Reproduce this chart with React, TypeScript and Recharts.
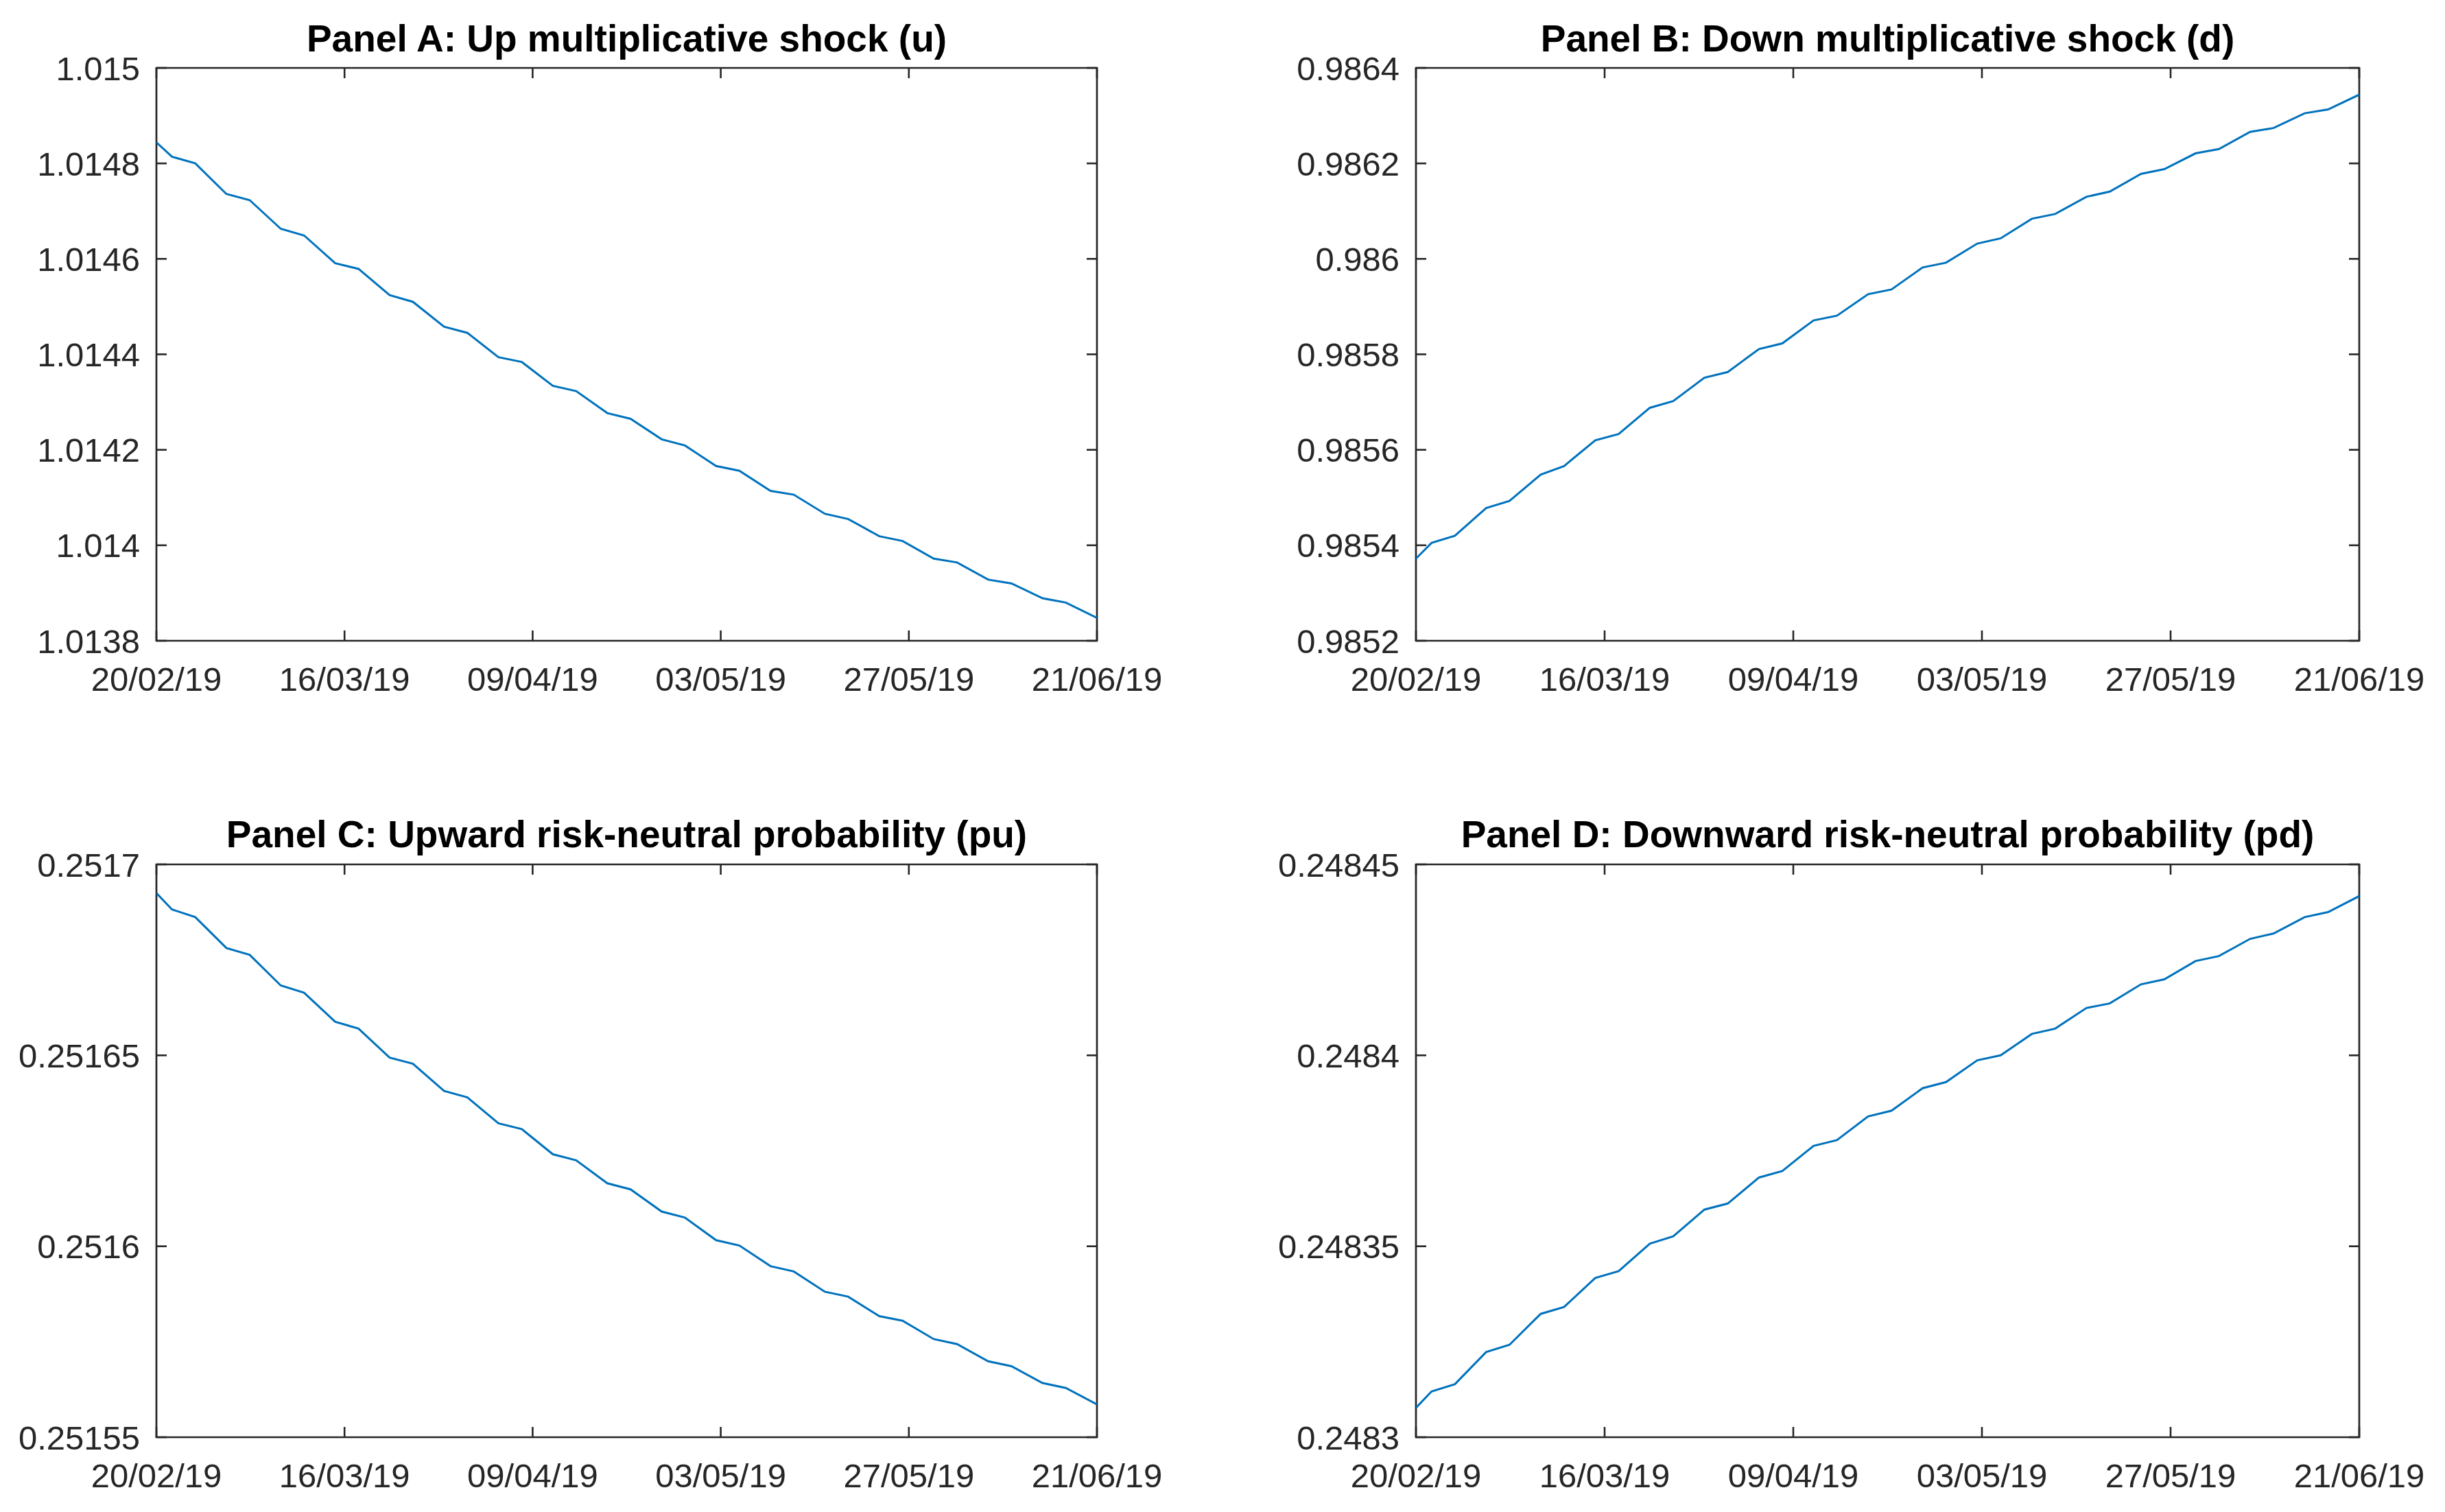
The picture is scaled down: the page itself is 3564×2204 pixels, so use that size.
import React from 'react';
import { LineChart, Line, XAxis, YAxis, ReferenceArea } from 'recharts';

// Observation dates where the series changes slope (trading-day kinks)
const dates = [
  "2019-02-20", "2019-02-22", "2019-02-25", "2019-03-01", "2019-03-04", "2019-03-08",
  "2019-03-11", "2019-03-15", "2019-03-18", "2019-03-22", "2019-03-25", "2019-03-29",
  "2019-04-01", "2019-04-05", "2019-04-08", "2019-04-12", "2019-04-15", "2019-04-19",
  "2019-04-22", "2019-04-26", "2019-04-29", "2019-05-03", "2019-05-06", "2019-05-10",
  "2019-05-13", "2019-05-17", "2019-05-20", "2019-05-24", "2019-05-27", "2019-05-31",
  "2019-06-03", "2019-06-07", "2019-06-10", "2019-06-14", "2019-06-17", "2019-06-21",
];

const xTickLabels = ["20/02/19", "16/03/19", "09/04/19", "03/05/19", "27/05/19", "21/06/19"];

const upShock = [
  1.014844, 1.014814, 1.0148, 1.014736, 1.014723, 1.014663, 1.014649, 1.014591, 1.014579,
  1.014524, 1.01451, 1.014458, 1.014445, 1.014394, 1.014384, 1.014334, 1.014323, 1.014277,
  1.014265, 1.014222, 1.014209, 1.014166, 1.014156, 1.014114, 1.014106, 1.014066, 1.014055,
  1.014019, 1.014009, 1.013972, 1.013964, 1.013928, 1.01392, 1.013889, 1.01388, 1.013848,
];
const downShock = [
  0.985372, 0.985405, 0.98542, 0.985478, 0.985493, 0.985548, 0.985566, 0.98562, 0.985633,
  0.985688, 0.985702, 0.985751, 0.985763, 0.985811, 0.985823, 0.985871, 0.985881, 0.985926,
  0.985936, 0.985982, 0.985992, 0.986032, 0.986043, 0.986084, 0.986094, 0.98613, 0.986141,
  0.986178, 0.986188, 0.986221, 0.98623, 0.986266, 0.986274, 0.986305, 0.986313, 0.986344,
];
const upProb = [
  0.2516925, 0.2516882, 0.2516862, 0.2516781, 0.2516763, 0.2516683, 0.2516664, 0.2516588, 0.251657,
  0.2516494, 0.2516478, 0.2516407, 0.251639, 0.2516322, 0.2516307, 0.2516241, 0.2516225, 0.2516165,
  0.2516149, 0.2516091, 0.2516075, 0.2516016, 0.2516002, 0.2515948, 0.2515934, 0.2515881, 0.2515868,
  0.2515817, 0.2515805, 0.2515757, 0.2515744, 0.2515699, 0.2515686, 0.2515642, 0.2515629, 0.2515586,
];
const downProb = [
  0.2483077, 0.248312, 0.2483139, 0.2483223, 0.2483242, 0.2483323, 0.2483341, 0.2483417, 0.2483435,
  0.2483507, 0.2483526, 0.2483596, 0.2483612, 0.248368, 0.2483697, 0.2483763, 0.2483778, 0.248384,
  0.2483855, 0.2483914, 0.248393, 0.2483987, 0.2484, 0.2484056, 0.248407, 0.2484124, 0.2484136,
  0.2484186, 0.2484199, 0.2484247, 0.248426, 0.2484305, 0.2484319, 0.2484362, 0.2484375, 0.2484417,
];

const yTicksA = [1.0138, 1.014, 1.0142, 1.0144, 1.0146, 1.0148, 1.015];
const yLabelsA = ["1.0138", "1.014", "1.0142", "1.0144", "1.0146", "1.0148", "1.015"];
const yTicksB = [0.9852, 0.9854, 0.9856, 0.9858, 0.986, 0.9862, 0.9864];
const yLabelsB = ["0.9852", "0.9854", "0.9856", "0.9858", "0.986", "0.9862", "0.9864"];
const yTicksC = [0.25155, 0.2516, 0.25165, 0.2517];
const yLabelsC = ["0.25155", "0.2516", "0.25165", "0.2517"];
const yTicksD = [0.2483, 0.24835, 0.2484, 0.24845];
const yLabelsD = ["0.2483", "0.24835", "0.2484", "0.24845"];

const titles = [
  "Panel A: Up multiplicative shock (u)",
  "Panel B: Down multiplicative shock (d)",
  "Panel C: Upward risk-neutral probability (pu)",
  "Panel D: Downward risk-neutral probability (pd)",
];

const FONT = '"Liberation Sans", Arial, Helvetica, sans-serif';
const AXIS = '#262626';
const TICK_LEN = 15;
const TICK_FS = 49;

const times = dates.map((d) => Date.parse(d + 'T00:00:00Z'));
const t0 = times[0];
const tN = times[times.length - 1];
const xTicks = xTickLabels.map((_, i) => t0 + (i * (tN - t0)) / (xTickLabels.length - 1));

type PanelProps = {
  left: number;
  top: number;
  values: number[];
  yTicks: number[];
  yLabels: string[];
  plotLeft: number;
  plotRight: number;
  plotTop: number;
  plotBottom: number;
};

const W = 1782;
const H = 1102;

function Panel({ left, top, values, yTicks, yLabels, plotLeft, plotRight, plotTop, plotBottom }: PanelProps) {
  const plotW = plotRight - plotLeft;
  const plotH = plotBottom - plotTop;
  const data = times.map((t, i) => ({ t, v: values[i] }));
  const yMin = yTicks[0];
  const yMax = yTicks[yTicks.length - 1];

  const renderXTick = (p: any) => {
    const { x, y, index } = p;
    return (
      <g key={'xt' + index}>
        <line x1={x} x2={x} y1={y} y2={y - TICK_LEN} stroke={AXIS} strokeWidth={2.6} />
        <line x1={x} x2={x} y1={y - plotH} y2={y - plotH + TICK_LEN} stroke={AXIS} strokeWidth={2.6} />
        <text x={x} y={y + 73} textAnchor="middle" fontSize={TICK_FS} fontFamily={FONT} fill={AXIS}>
          {xTickLabels[index]}
        </text>
      </g>
    );
  };

  const renderYTick = (p: any) => {
    const { x, y, index } = p;
    return (
      <g key={'yt' + index}>
        <line x1={x} x2={x + TICK_LEN} y1={y} y2={y} stroke={AXIS} strokeWidth={2.6} />
        <line x1={x + plotW - TICK_LEN} x2={x + plotW} y1={y} y2={y} stroke={AXIS} strokeWidth={2.6} />
        <text x={x - 24} y={y + TICK_FS * 0.36} textAnchor="end" fontSize={TICK_FS} fontFamily={FONT} fill={AXIS}>
          {yLabels[index]}
        </text>
      </g>
    );
  };

  return (
    <div style={{ position: 'absolute', left, top, width: W, height: H }}>
      <LineChart
        width={W}
        height={H}
        data={data}
        margin={{ top: plotTop, right: W - plotRight, bottom: 0, left: 0 }}
      >
        <XAxis
          dataKey="t"
          type="number"
          domain={[t0, tN]}
          ticks={xTicks}
          interval={0}
          height={H - plotBottom}
          tickSize={0}
          tickMargin={0}
          axisLine={false}
          tickLine={false}
          tick={renderXTick}
          allowDataOverflow
        />
        <YAxis
          type="number"
          domain={[yMin, yMax]}
          ticks={yTicks}
          interval={0}
          width={plotLeft}
          tickSize={0}
          tickMargin={0}
          axisLine={false}
          tickLine={false}
          tick={renderYTick}
          allowDataOverflow
        />
        <ReferenceArea
          x1={t0}
          x2={tN}
          y1={yMin}
          y2={yMax}
          fill="none"
          fillOpacity={0}
          stroke={AXIS}
          strokeWidth={2.7}
          ifOverflow="visible"
        />
        <Line
          type="linear"
          dataKey="v"
          stroke="#0072BD"
          strokeWidth={3}
          dot={false}
          activeDot={false}
          isAnimationActive={false}
        />
      </LineChart>
    </div>
  );
}

export default function App() {
  const colA = { plotLeft: 228, plotRight: 1599 };
  const colB = { plotLeft: 2064 - 1782, plotRight: 3439 - 1782 };
  const rowTop = { plotTop: 99, plotBottom: 934 };
  const rowBot = { plotTop: 1260 - 1102, plotBottom: 2095 - 1102 };
  const titlePos = [
    { x: (228 + 1599) / 2, y: 75 },
    { x: (2064 + 3439) / 2, y: 75 },
    { x: (228 + 1599) / 2, y: 1235 },
    { x: (2064 + 3439) / 2, y: 1235 },
  ];
  return (
    <div style={{ position: 'absolute', left: 0, top: 0, width: 3564, height: 2204, background: '#ffffff', overflow: 'hidden' }}>
      <Panel left={0} top={0} values={upShock} yTicks={yTicksA} yLabels={yLabelsA} {...colA} {...rowTop} />
      <Panel left={1782} top={0} values={downShock} yTicks={yTicksB} yLabels={yLabelsB} {...colB} {...rowTop} />
      <Panel left={0} top={1102} values={upProb} yTicks={yTicksC} yLabels={yLabelsC} {...colA} {...rowBot} />
      <Panel left={1782} top={1102} values={downProb} yTicks={yTicksD} yLabels={yLabelsD} {...colB} {...rowBot} />
      <svg
        width={3564}
        height={2204}
        style={{ position: 'absolute', left: 0, top: 0, pointerEvents: 'none' }}
      >
        {titles.map((t, i) => (
          <text
            key={t}
            x={titlePos[i].x}
            y={titlePos[i].y}
            textAnchor="middle"
            fontSize={55}
            fontWeight="bold"
            fontFamily={FONT}
            fill="#000000"
          >
            {t}
          </text>
        ))}
      </svg>
    </div>
  );
}
